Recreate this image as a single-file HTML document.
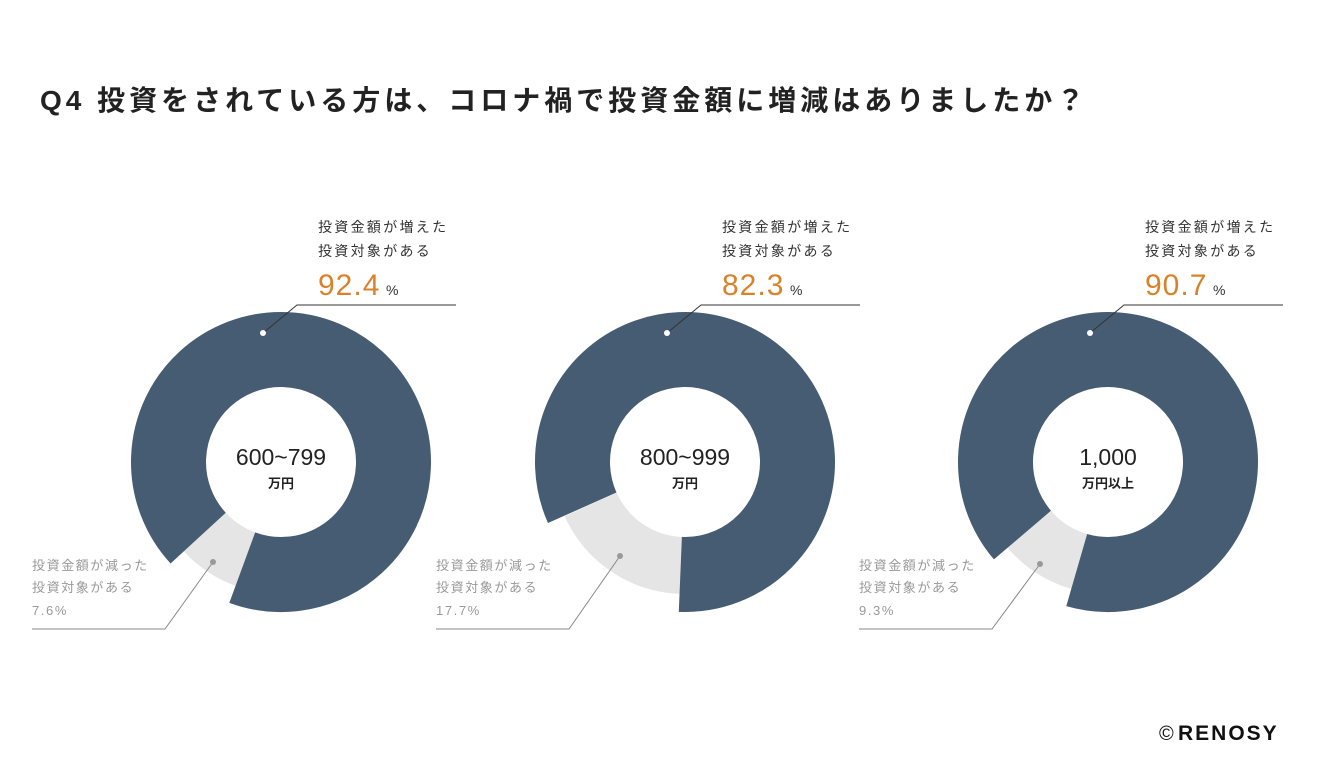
<!DOCTYPE html>
<html><head><meta charset="utf-8"><style>
body{margin:0;background:#fff;}
svg{display:block;font-family:"Liberation Sans","Noto Sans CJK JP",sans-serif;}
</style></head><body>
<svg width="1320" height="780" viewBox="0 0 1320 780">
<text x="40" y="110" font-size="28" font-weight="bold" fill="#222" letter-spacing="4">Q4 投資をされている方は、コロナ禍で投資金額に増減はありましたか？</text>

<g>
<circle cx="281" cy="462" r="103.5" fill="none" stroke="#e5e5e5" stroke-width="57" stroke-dasharray="49.4 1000" transform="rotate(110 281 462)"/>
<circle cx="281" cy="462" r="112.5" fill="none" stroke="#465c72" stroke-width="75" stroke-dasharray="653.1 1000" transform="rotate(137.4 281 462)"/>
<text x="281" y="465" font-size="23" fill="#222" text-anchor="middle">600~799</text>
<text x="281" y="488" font-size="13" font-weight="bold" fill="#222" text-anchor="middle">万円</text>
<polyline points="263,333 297,305 456,305" fill="none" stroke="#333" stroke-width="1"/>
<circle cx="263" cy="333" r="3" fill="#fff"/>
<polyline points="213,562 165,629 32,629" fill="none" stroke="#888" stroke-width="1"/>
<circle cx="213" cy="562" r="3" fill="#999"/>
<text x="318" y="232" font-size="14" fill="#333" letter-spacing="2.3">投資金額が増えた</text>
<text x="318" y="256" font-size="14" fill="#333" letter-spacing="2.3">投資対象がある</text>
<text x="318" y="295" font-size="30" fill="#d9822b" letter-spacing="1">92.4</text>
<text x="386" y="295" font-size="14" fill="#333">%</text>
<text x="32" y="570" font-size="13" fill="#999" letter-spacing="1.6">投資金額が減った</text>
<text x="32" y="592" font-size="13" fill="#999" letter-spacing="1.6">投資対象がある</text>
<text x="32" y="615" font-size="13" fill="#999" letter-spacing="1.6">7.6%</text>
</g>

<g>
<circle cx="685" cy="462" r="103.5" fill="none" stroke="#e5e5e5" stroke-width="57" stroke-dasharray="115.1 1000" transform="rotate(92 685 462)"/>
<circle cx="685" cy="462" r="112.5" fill="none" stroke="#465c72" stroke-width="75" stroke-dasharray="581.7 1000" transform="rotate(156 685 462)"/>
<text x="685" y="465" font-size="23" fill="#222" text-anchor="middle">800~999</text>
<text x="685" y="488" font-size="13" font-weight="bold" fill="#222" text-anchor="middle">万円</text>
<polyline points="667,333 701,305 860,305" fill="none" stroke="#333" stroke-width="1"/>
<circle cx="667" cy="333" r="3" fill="#fff"/>
<polyline points="620,556 569,629 436,629" fill="none" stroke="#888" stroke-width="1"/>
<circle cx="620" cy="556" r="3" fill="#999"/>
<text x="722" y="232" font-size="14" fill="#333" letter-spacing="2.3">投資金額が増えた</text>
<text x="722" y="256" font-size="14" fill="#333" letter-spacing="2.3">投資対象がある</text>
<text x="722" y="295" font-size="30" fill="#d9822b" letter-spacing="1">82.3</text>
<text x="790" y="295" font-size="14" fill="#333">%</text>
<text x="436" y="570" font-size="13" fill="#999" letter-spacing="1.6">投資金額が減った</text>
<text x="436" y="592" font-size="13" fill="#999" letter-spacing="1.6">投資対象がある</text>
<text x="436" y="615" font-size="13" fill="#999" letter-spacing="1.6">17.7%</text>
</g>

<g>
<circle cx="1108" cy="462" r="103.5" fill="none" stroke="#e5e5e5" stroke-width="57" stroke-dasharray="60.5 1000" transform="rotate(106 1108 462)"/>
<circle cx="1108" cy="462" r="112.5" fill="none" stroke="#465c72" stroke-width="75" stroke-dasharray="641.1 1000" transform="rotate(139.5 1108 462)"/>
<text x="1108" y="465" font-size="23" fill="#222" text-anchor="middle">1,000</text>
<text x="1108" y="488" font-size="13" font-weight="bold" fill="#222" text-anchor="middle">万円以上</text>
<polyline points="1090,333 1124,305 1283,305" fill="none" stroke="#333" stroke-width="1"/>
<circle cx="1090" cy="333" r="3" fill="#fff"/>
<polyline points="1040,564 992,629 859,629" fill="none" stroke="#888" stroke-width="1"/>
<circle cx="1040" cy="564" r="3" fill="#999"/>
<text x="1145" y="232" font-size="14" fill="#333" letter-spacing="2.3">投資金額が増えた</text>
<text x="1145" y="256" font-size="14" fill="#333" letter-spacing="2.3">投資対象がある</text>
<text x="1145" y="295" font-size="30" fill="#d9822b" letter-spacing="1">90.7</text>
<text x="1213" y="295" font-size="14" fill="#333">%</text>
<text x="859" y="570" font-size="13" fill="#999" letter-spacing="1.6">投資金額が減った</text>
<text x="859" y="592" font-size="13" fill="#999" letter-spacing="1.6">投資対象がある</text>
<text x="859" y="615" font-size="13" fill="#999" letter-spacing="1.6">9.3%</text>
</g>

<text x="1159" y="740" font-size="20" fill="#111">©</text>
<text x="1178" y="740" font-size="21" font-weight="bold" fill="#111" letter-spacing="2">RENOSY</text>
</svg>
</body></html>
